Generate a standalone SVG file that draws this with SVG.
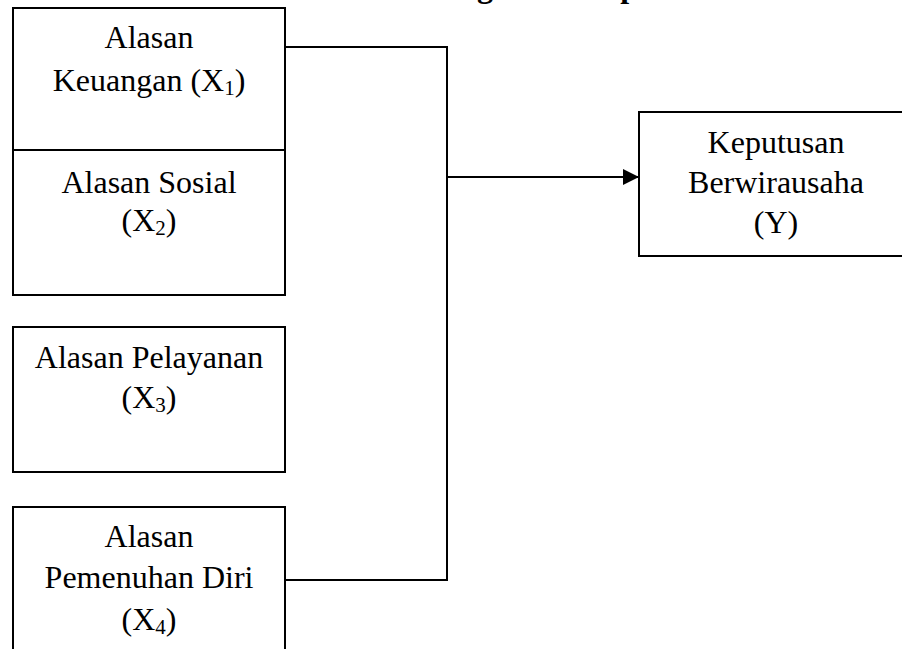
<svg xmlns="http://www.w3.org/2000/svg" width="902" height="649" viewBox="0 0 902 649">
<style>
.box{fill:#fff;stroke:#000;stroke-width:2}
.t{font-family:"Liberation Serif","Times New Roman",serif;font-size:32px;fill:#000;text-anchor:middle}
.sub{font-size:21px}
.conn{fill:none;stroke:#000;stroke-width:2}
.title{font-family:"Liberation Serif","Times New Roman",serif;font-size:32px;font-weight:bold;fill:#000}
</style>
<defs>
<marker id="arr" markerWidth="16" markerHeight="16" refX="16" refY="8" orient="auto" markerUnits="userSpaceOnUse">
<path d="M0,0 L16,8 L0,16 Z" fill="#000"/>
</marker>
</defs>
<text class="title" x="390" y="-3">Kerangka Konsep</text>
<g id="connectors">
<path class="conn" d="M285,47 H447 V580 H285"/>
<path class="conn" d="M447,177 H639" stroke-width="2.5" marker-end="url(#arr)"/>
</g>
<g id="x1">
<rect class="box" x="13" y="8" width="272" height="142"/>
<text class="t" x="149" y="48">Alasan</text>
<text class="t" x="149" y="91">Keuangan (X<tspan class="sub" dy="4">1</tspan><tspan dy="-4">)</tspan></text>
</g>
<g id="x2">
<rect class="box" x="13" y="150" width="272" height="145"/>
<text class="t" x="149" y="193">Alasan Sosial</text>
<text class="t" x="149" y="231">(X<tspan class="sub" dy="4">2</tspan><tspan dy="-4">)</tspan></text>
</g>
<g id="x3">
<rect class="box" x="13" y="327" width="272" height="145"/>
<text class="t" x="149" y="368">Alasan Pelayanan</text>
<text class="t" x="149" y="408">(X<tspan class="sub" dy="4">3</tspan><tspan dy="-4">)</tspan></text>
</g>
<g id="x4">
<rect class="box" x="13" y="507" width="272" height="180"/>
<text class="t" x="149" y="547">Alasan</text>
<text class="t" x="149" y="588">Pemenuhan Diri</text>
<text class="t" x="149" y="630">(X<tspan class="sub" dy="4">4</tspan><tspan dy="-4">)</tspan></text>
</g>
<g id="y">
<rect class="box" x="639" y="112" width="274" height="144"/>
<text class="t" x="776" y="153">Keputusan</text>
<text class="t" x="776" y="193">Berwirausaha</text>
<text class="t" x="776" y="233">(Y)</text>
</g>
</svg>
